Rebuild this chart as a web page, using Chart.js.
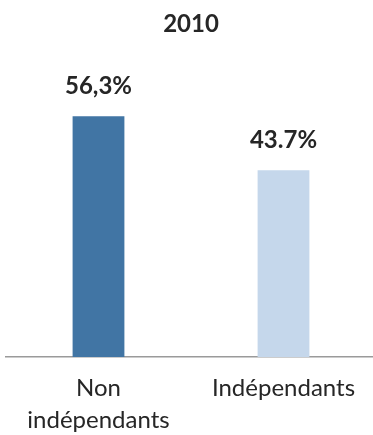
<!DOCTYPE html>
<html>
<head>
<meta charset="utf-8">
<script src="https://cdn.jsdelivr.net/npm/chart.js@4/dist/chart.umd.min.js"></script>
<style>
    html, body { margin: 0; padding: 0; background: #fff; overflow: hidden; }
    #wrap { width: 380px; height: 435px; }
</style>
</head>
<body>
<div id="wrap"><canvas id="myChart"></canvas></div>
<script>
var categories = [['Non', 'indépendants'], 'Indépendants'];
var values = [56.3, 43.7];
var valueLabels = ['56,3%', '43.7%'];
var barColors = ['#4175a4', '#c5d7eb'];

// draws the value text above each bar
var barLabels = {
    id: 'barLabels',
    afterDatasetsDraw: function(chart) {
        var ctx = chart.ctx;
        var meta = chart.getDatasetMeta(0);
        ctx.save();
        ctx.font = 'bold 24px Lato';
        ctx.fillStyle = '#262626';
        ctx.textAlign = 'center';
        ctx.textBaseline = 'bottom';
        meta.data.forEach(function(bar, i) {
            ctx.fillText(valueLabels[i], bar.x, bar.y - 18);
        });
        ctx.restore();
    }
};

document.addEventListener("DOMContentLoaded", function() {
    var ctx = document.getElementById('myChart').getContext('2d');

    var myChart = new Chart(ctx, {
        type: 'bar',
        data: {
            labels: categories,
            datasets: [{
                label: '2010',
                data: values,
                backgroundColor: barColors,
                borderWidth: 0,
                barPercentage: 0.28,
                categoryPercentage: 1
            }]
        },
        options: {
            responsive: true,
            maintainAspectRatio: false,
            animation: false,
            layout: {
                padding: { left: 6, right: 4, top: 0, bottom: 0 }
            },
            plugins: {
                legend: { display: false },
                tooltip: { enabled: false },
                title: {
                    display: true,
                    text: '2010',
                    color: '#262626',
                    font: { family: 'Lato', size: 24, weight: 'bold' },
                    padding: { top: 10, bottom: 19 }
                }
            },
            scales: {
                y: {
                    display: false,
                    min: 0,
                    max: 70
                },
                x: {
                    grid: { display: false, drawTicks: false },
                    border: { display: true, color: '#9a9a9a', width: 1.5 },
                    ticks: {
                        color: '#262626',
                        padding: 16,
                        maxRotation: 0,
                        font: { family: 'Lato', size: 24, lineHeight: 1.3 }
                    },
                    afterFit: function(scale) {
                        scale.height = 78;
                    }
                }
            }
        },
        plugins: [barLabels]
    });
});
</script>
</body>
</html>
